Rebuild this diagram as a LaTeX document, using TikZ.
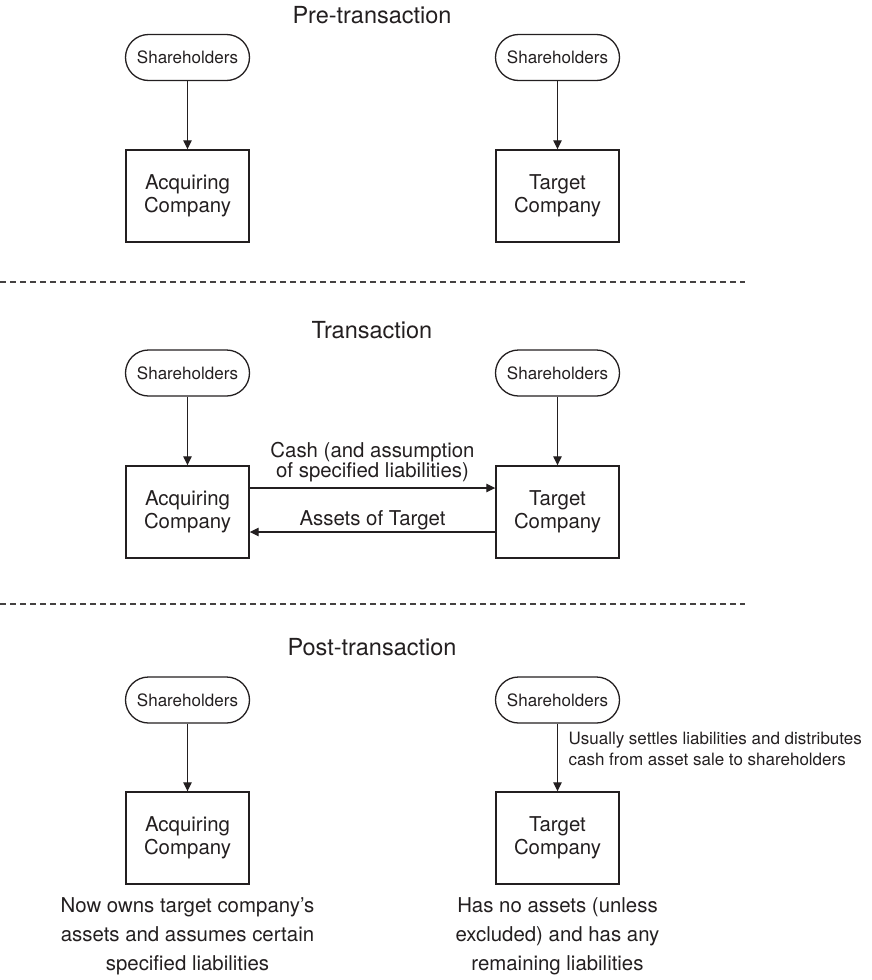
\documentclass[tikz,border=0pt]{standalone}
\usepackage{fontspec}
\setmainfont{TeX Gyre Heros}
\usetikzlibrary{arrows.meta}
\definecolor{ink}{HTML}{231F20}
\begin{document}
\begin{tikzpicture}[x=1pt,y=-1pt,
  pill/.style={draw=ink, line width=1.3pt, rounded corners=23pt, minimum width=124pt,
    minimum height=46pt, inner sep=0pt, text=ink, font=\fontsize{17}{20}\selectfont},
  cobox/.style={draw=ink, line width=1.4pt, minimum width=123pt, minimum height=92pt,
    inner sep=0pt, align=center, text=ink, font=\fontsize{20.4}{23}\selectfont},
  arr/.style={draw=ink, line width=1.2pt, -{Triangle[length=9pt,width=8.5pt]}},
  phase/.style={anchor=base, text=ink, font=\fontsize{23.5}{28}\selectfont, inner sep=0pt},
  flow/.style={text=ink, font=\fontsize{20.4}{19.5}\selectfont, align=center, inner sep=0pt},
  note/.style={text=ink, font=\fontsize{20.4}{29}\selectfont, align=center, inner sep=0pt},
  aside/.style={text=ink, font=\fontsize{17}{20.5}\selectfont, align=left, inner sep=0pt},
  divider/.style={draw=ink!85, line width=1.3pt, dash pattern=on 6pt off 4pt}
]
\useasboundingbox (0,0) rectangle (871,980);

% ---- before the deal ----
\node[phase] (t1) at (372,23) {Pre-transaction};
\node[pill] (s1a) at (187.5,57.5) {Shareholders};
\node[pill] (s1b) at (557.5,57.5) {Shareholders};
\node[cobox] (c1a) at (187.5,196) {Acquiring\\Company};
\node[cobox] (c1b) at (557.5,196) {Target\\Company};
\draw[arr] (s1a) -- (c1a);
\draw[arr] (s1b) -- (c1b);

\coordinate (d1l) at (0,282);
\coordinate (d1r) at (745,282);
\draw[divider] (d1l) -- (d1r);

% ---- the deal ----
\node[phase] (t2) at (372,338) {Transaction};
\node[pill] (s2a) at (187.5,373) {Shareholders};
\node[pill] (s2b) at (557.5,373) {Shareholders};
\node[cobox] (c2a) at (187.5,512) {Acquiring\\Company};
\node[cobox] (c2b) at (557.5,512) {Target\\Company};
\draw[arr] (s2a) -- (c2a);
\draw[arr] (s2b) -- (c2b);
\draw[arr] ([yshift=24pt]c2a.east) -- ([yshift=24pt]c2b.west)
  node[midway, flow, anchor=south, yshift=5.7pt] {Cash (and assumption\\of specified liabilities)};
\draw[arr] ([yshift=-20pt]c2b.west) -- ([yshift=-20pt]c2a.east)
  node[midway, flow, anchor=south, yshift=1.6pt] {Assets of Target};

\coordinate (d2l) at (0,604);
\coordinate (d2r) at (745,604);
\draw[divider] (d2l) -- (d2r);

% ---- after the deal ----
\node[phase] (t3) at (372,655) {Post-transaction};
\node[pill] (s3a) at (187.5,700) {Shareholders};
\node[pill] (s3b) at (557.5,700) {Shareholders};
\node[cobox] (c3a) at (187.5,838) {Acquiring\\Company};
\node[cobox] (c3b) at (557.5,838) {Target\\Company};
\draw[arr] (s3a) -- (c3a);
\draw[arr] (s3b) -- (c3b)
  node[pos=0.377, aside, anchor=west, xshift=10.5pt] {Usually settles liabilities and distributes\\cash from asset sale to shareholders};
\node[note, anchor=north] (n3a) at ([yshift=-12.8pt]c3a.south)
  {Now owns target company’s\\assets and assumes certain\\specified liabilities};
\node[note, anchor=north] (n3b) at ([yshift=-12.8pt]c3b.south)
  {Has no assets (unless\\excluded) and has any\\remaining liabilities};
\end{tikzpicture}
\end{document}
